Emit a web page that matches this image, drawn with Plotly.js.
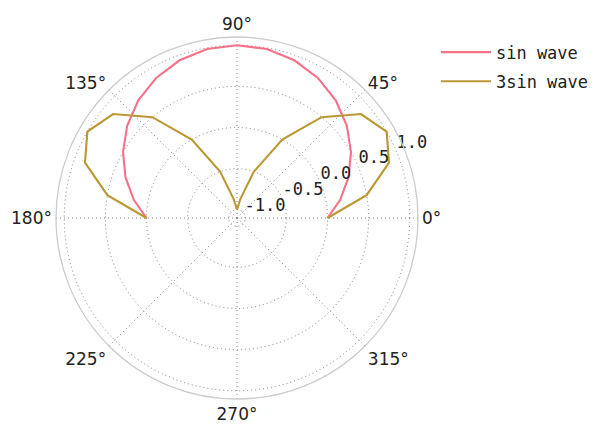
<!DOCTYPE html>
<html><head><meta charset="utf-8">
<script src="https://cdn.plot.ly/plotly-3.0.1.min.js"></script>
<style>html,body{margin:0;padding:0;background:#fff}#chart{width:614px;height:438px}</style>
</head><body><div id="chart"></div>
<script>
const thetaDeg = [0,10,20,30,40,50,60,70,80,90,100,110,120,130,140,150,160,170,180];
const sinWave = [0,0.174,0.342,0.5,0.643,0.766,0.866,0.94,0.985,1.0,0.985,0.94,0.866,0.766,0.643,0.5,0.342,0.174,0];
const sin3Wave = [0,0.5,0.866,1.0,0.866,0.5,0,-0.5,-0.866,-1.0,-0.866,-0.5,0,0.5,0.866,1.0,0.866,0.5,0];
const seriesNames = ["sin wave","3sin wave"];
const angTickVals = [0,45,90,135,180,225,270,315];
const angTickText = ["0°","45°","90°","135°","180°","225°","270°","315°"];
const radTickVals = [-1.0,-0.5,0.0,0.5,1.0];
const radTickText = ["-1.0","-0.5","0.0","0.5","1.0"];
const radLabelAngle = 22.5;

const mono = "DejaVu Sans Mono, monospace";
const traces = [
  {type:'scatterpolar', mode:'lines', r:sinWave, theta:thetaDeg, name:seriesNames[0], legendgroup:'a',
   line:{color:'#f77189', width:2.1}},
  {type:'scatterpolar', mode:'lines', r:sin3Wave, theta:thetaDeg, name:seriesNames[1], legendgroup:'b',
   line:{color:'#bb9832', width:2.1}},
  {type:'scatterpolar', mode:'text', r:radTickVals, theta:radTickVals.map(()=>radLabelAngle),
   text:radTickText, textposition:'top right', showlegend:false, hoverinfo:'skip', cliponaxis:false,
   textfont:{family:mono, size:17, color:'#222'}}
];
const layout = {
  width:614, height:438,
  margin:{l:0,r:0,t:0,b:0},
  paper_bgcolor:'#fff',
  showlegend:true,
  legend:{x:0.71, y:0.921, xanchor:'left', yanchor:'top', font:{family:mono, size:17, color:'#222'},
    bgcolor:'rgba(0,0,0,0)', tracegroupgap:4, itemwidth:50},
  polar:{
    domain:{x:[56/614, 418/614], y:[39/438, 401/438]},
    bgcolor:'#fff',
    radialaxis:{range:[-1.1,1.1], angle:22.5, tickvals:radTickVals, showticklabels:false,
      showline:false, ticks:'', gridcolor:'#808080', griddash:'1px,3px', gridwidth:1.3},
    angularaxis:{direction:'counterclockwise', rotation:0, tickvals:angTickVals, ticktext:angTickText,
      ticks:'', showline:true, linecolor:'#cccccc', linewidth:1.3,
      gridcolor:'#808080', griddash:'1px,3px', gridwidth:1.3,
      tickfont:{family:"DejaVu Sans, sans-serif", size:17, color:'#222'}}
  }
};
Plotly.newPlot('chart', traces, layout, {displayModeBar:false});
</script></body></html>
